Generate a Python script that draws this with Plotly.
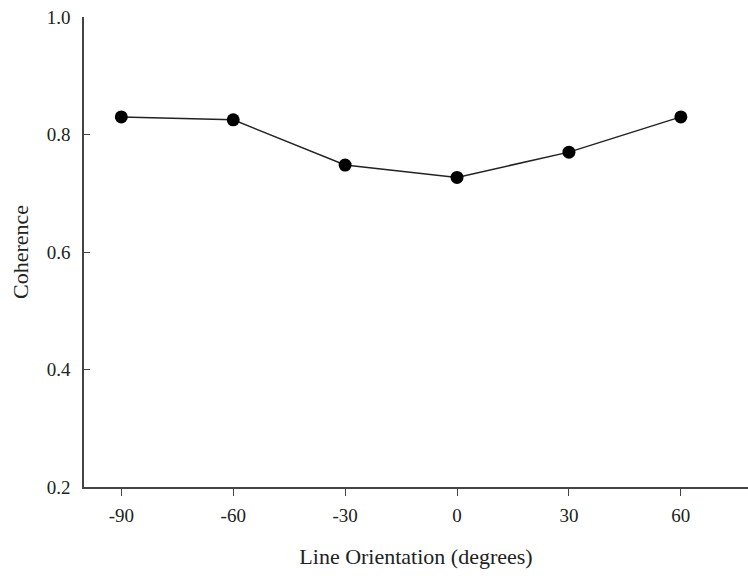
import plotly.graph_objects as go

orientation = [-90, -60, -30, 0, 30, 60]
coherence = [0.830, 0.825, 0.748, 0.727, 0.770, 0.830]
x_ticks = [-90, -60, -30, 0, 30, 60]
y_ticks = [0.2, 0.4, 0.6, 0.8, 1.0]

fig = go.Figure()
fig.add_trace(go.Scatter(
    x=orientation, y=coherence, mode="lines+markers",
    line=dict(color="#222222", width=1.5),
    marker=dict(color="black", size=13),
    showlegend=False,
))

font_family = "Liberation Serif, Times New Roman, serif"
fig.update_layout(
    width=748, height=576,
    margin=dict(l=84, r=0, t=17, b=89),
    paper_bgcolor="white", plot_bgcolor="white",
    font=dict(family=font_family, color="#222222", size=19),
)
fig.update_xaxes(
    range=[-100, 78], tickvals=x_ticks, ticktext=[str(v) for v in x_ticks],
    showgrid=False, zeroline=False, showline=True, linecolor="#444444", linewidth=1.5,
    ticks="outside", ticklen=7, tickwidth=1.2, tickcolor="#444444",
    ticklabelstandoff=3,
    title=dict(text="Line Orientation (degrees)", font=dict(size=22), standoff=24),
)
fig.update_yaxes(
    range=[0.2, 1.0], tickvals=y_ticks, ticktext=[f"{v:.1f}" for v in y_ticks],
    showgrid=False, zeroline=False, showline=True, linecolor="#444444", linewidth=1.5,
    ticks="inside", ticklen=6, tickwidth=1.2, tickcolor="#444444",
    ticklabelstandoff=8,
    title=dict(text="Coherence", font=dict(size=22), standoff=12),
)
fig.write_html("out.html")
